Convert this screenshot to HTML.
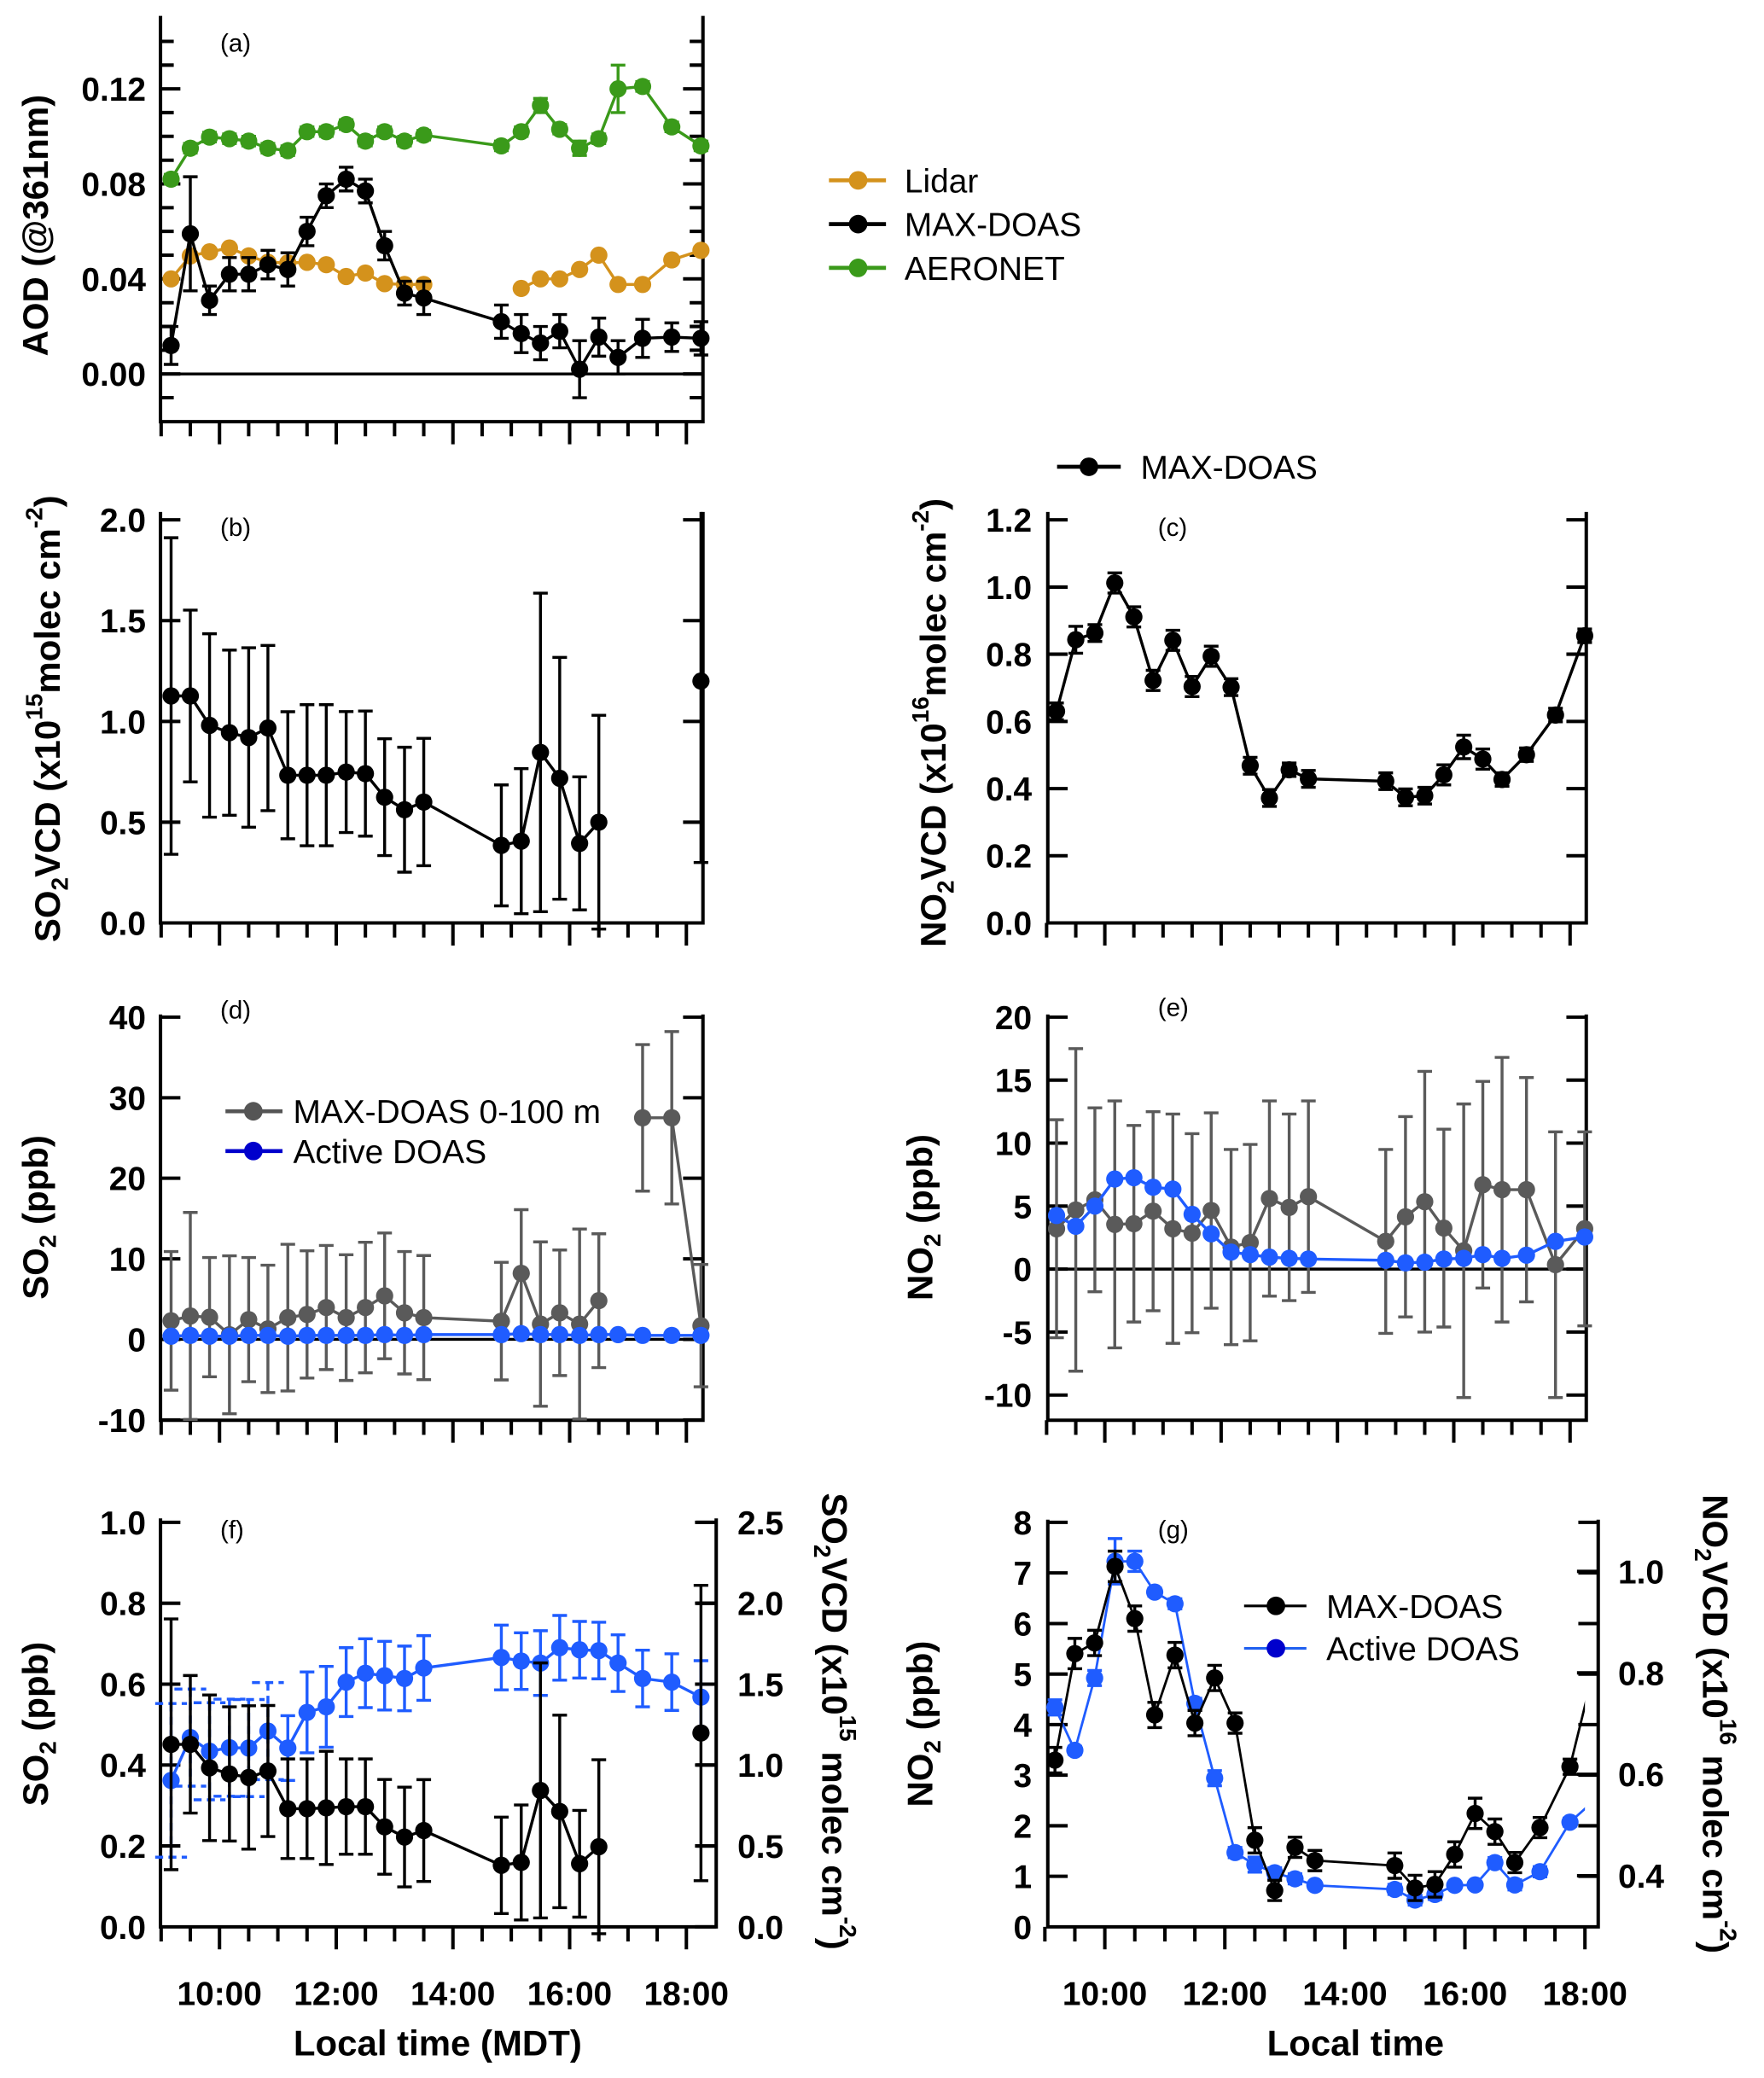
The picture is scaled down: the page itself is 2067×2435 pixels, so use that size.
<!DOCTYPE html>
<html><head><meta charset="utf-8"><title>AOD, SO2 and NO2 time series</title>
<style>
html,body{margin:0;padding:0;background:#fff;}
svg{display:block;font-family:"Liberation Sans",Arial,sans-serif;}
.tl{font-size:25px;font-weight:bold;}
.ttl{font-size:27px;font-weight:bold;}
.lg{font-size:25px;}
.pl{font-size:19px;}
</style></head>
<body>
<svg id="fig" width="2067" height="2435" viewBox="0 0 1330 1567" preserveAspectRatio="none">
<rect x="0" y="0" width="1330" height="1567" fill="#fff"/>
<text class="pl" x="166" y="39">(a)</text>
<text class="pl" x="166" y="404">(b)</text>
<text class="pl" x="873" y="404">(c)</text>
<text class="pl" x="166" y="768">(d)</text>
<text class="pl" x="873" y="766">(e)</text>
<text class="pl" x="166" y="1160">(f)</text>
<text class="pl" x="873" y="1160">(g)</text>
<text class="ttl" transform="translate(36,170) rotate(-90)" text-anchor="middle">AOD (@361nm)</text>
<text class="ttl" transform="translate(45,542) rotate(-90)" text-anchor="middle">SO<tspan font-size="18" dy="6">2</tspan><tspan dy="-6">VCD (x10</tspan><tspan font-size="18" dy="-13">15</tspan><tspan dy="13">molec cm</tspan><tspan font-size="18" dy="-13">-2</tspan><tspan dy="13">)</tspan></text>
<text class="ttl" transform="translate(713,545) rotate(-90)" text-anchor="middle">NO<tspan font-size="18" dy="6">2</tspan><tspan dy="-6">VCD (x10</tspan><tspan font-size="18" dy="-13">16</tspan><tspan dy="13">molec cm</tspan><tspan font-size="18" dy="-13">-2</tspan><tspan dy="13">)</tspan></text>
<text class="ttl" transform="translate(36,918) rotate(-90)" text-anchor="middle">SO<tspan font-size="18" dy="6">2</tspan><tspan dy="-6"> (ppb)</tspan></text>
<text class="ttl" transform="translate(703,918) rotate(-90)" text-anchor="middle">NO<tspan font-size="18" dy="6">2</tspan><tspan dy="-6"> (ppb)</tspan></text>
<text class="ttl" transform="translate(36,1300) rotate(-90)" text-anchor="middle">SO<tspan font-size="18" dy="6">2</tspan><tspan dy="-6"> (ppb)</tspan></text>
<text class="ttl" transform="translate(620,1298) rotate(90)" text-anchor="middle">SO<tspan font-size="18" dy="6">2</tspan><tspan dy="-6">VCD (x10</tspan><tspan font-size="18" dy="-13">15</tspan><tspan dy="13"> molec cm</tspan><tspan font-size="18" dy="-13">-2</tspan><tspan dy="13">)</tspan></text>
<text class="ttl" transform="translate(703,1300) rotate(-90)" text-anchor="middle">NO<tspan font-size="18" dy="6">2</tspan><tspan dy="-6"> (ppb)</tspan></text>
<text class="ttl" transform="translate(1284,1300) rotate(90)" text-anchor="middle">NO<tspan font-size="18" dy="6">2</tspan><tspan dy="-6">VCD (x10</tspan><tspan font-size="18" dy="-13">16</tspan><tspan dy="13"> molec cm</tspan><tspan font-size="18" dy="-13">-2</tspan><tspan dy="13">)</tspan></text>
<text class="ttl" x="330" y="1550" text-anchor="middle">Local  time (MDT)</text>
<text class="ttl" x="1022" y="1550" text-anchor="middle">Local  time</text>
<g>
 <line x1="625" y1="136" x2="668" y2="136" stroke="#d4921c" stroke-width="3"/><circle cx="647" cy="136" r="7" fill="#d4921c"/>
 <text class="lg" x="682" y="145">Lidar</text>
 <line x1="625" y1="169" x2="668" y2="169" stroke="#000" stroke-width="3"/><circle cx="647" cy="169" r="7" fill="#000"/>
 <text class="lg" x="682" y="178">MAX-DOAS</text>
 <line x1="625" y1="202" x2="668" y2="202" stroke="#3a9a1a" stroke-width="3"/><circle cx="647" cy="202" r="7" fill="#3a9a1a"/>
 <text class="lg" x="682" y="211">AERONET</text>
</g>
<g>
 <line x1="797" y1="352" x2="845" y2="352" stroke="#000" stroke-width="3"/><circle cx="821" cy="352" r="7" fill="#000"/>
 <text class="lg" x="860" y="361">MAX-DOAS</text>
</g>
<g>
 <line x1="170" y1="838" x2="213" y2="838" stroke="#555" stroke-width="3"/><circle cx="191" cy="838" r="7" fill="#555"/>
 <text class="lg" x="221" y="847">MAX-DOAS 0-100 m</text>
 <line x1="170" y1="868" x2="213" y2="868" stroke="#0000cc" stroke-width="3"/><circle cx="191" cy="868" r="7" fill="#0000cc"/>
 <text class="lg" x="221" y="877">Active DOAS</text>
</g>
<g>
 <line x1="938" y1="1211" x2="985" y2="1211" stroke="#000" stroke-width="2"/><circle cx="962" cy="1211" r="7" fill="#000"/>
 <text class="lg" x="1000" y="1220">MAX-DOAS</text>
 <line x1="938" y1="1243" x2="985" y2="1243" stroke="#2060f0" stroke-width="2"/><circle cx="962" cy="1243" r="7" fill="#0000cc"/>
 <text class="lg" x="1000" y="1252">Active DOAS</text>
</g>
<defs>
<clipPath id="clipG"><rect x="780" y="1100" width="415" height="400"/></clipPath>
<clipPath id="clipB"><rect x="100" y="386" width="450" height="330"/></clipPath>
</defs>
</svg>
<script>
const T = [9.17,9.5,9.83,10.17,10.5,10.83,11.17,11.5,11.83,12.17,12.5,12.83,13.17,13.5,14.83,15.17,15.5,15.83,16.17,16.5,16.83,17.25,17.75,18.25];
const hourLabels = ["10:00","12:00","14:00","16:00","18:00"];
const hourValues = [10,12,14,16,18];

const aodMax = [0.012,0.059,0.031,0.042,0.042,0.046,0.044,0.060,0.075,0.082,0.077,0.054,0.034,0.032,0.022,0.017,0.013,0.018,0.002,0.0155,0.007,0.015,0.0155,0.015];
const aodMaxErr = [0.008,0.024,0.006,0.007,0.007,0.006,0.007,0.006,0.005,0.005,0.005,0.006,0.005,0.007,0.007,0.008,0.007,0.007,0.012,0.008,0.007,0.008,0.006,0.007];
const aodAeronet = [0.082,0.095,0.0997,0.099,0.098,0.095,0.094,0.102,0.102,0.105,0.098,0.102,0.098,0.1005,0.096,0.102,0.113,0.103,0.095,0.099,0.120,0.121,0.104,0.096];
const aodAeronetErr = [0.002,0.002,0.002,0.002,0.002,0.002,0.002,0.002,0.002,0.002,0.002,0.002,0.002,0.002,0.002,0.002,0.003,0.002,0.003,0.002,0.010,0.002,0.002,0.002];
const aodLidar = [0.040,0.0497,0.0514,0.053,0.0497,0.047,0.0467,0.047,0.046,0.041,0.0425,0.038,0.0377,0.0377,null,0.036,0.040,0.040,0.044,0.050,0.0377,0.0377,0.048,0.052];

const so2Vcd = [1.126,1.126,0.98,0.944,0.92,0.967,0.733,0.733,0.733,0.749,0.741,0.624,0.562,0.60,0.385,0.406,0.846,0.718,0.395,0.5,null,null,null,1.2];
const so2VcdErr = [0.785,0.426,0.455,0.41,0.445,0.41,0.315,0.35,0.35,0.3,0.31,0.29,0.31,0.316,0.3,0.36,0.79,0.6,0.33,0.53,null,null,null,0.9];

const no2Vcd = [0.63,0.843,0.863,1.012,0.911,0.722,0.841,0.704,0.794,0.702,0.468,0.372,0.456,0.429,0.422,0.374,0.379,0.441,0.524,0.488,0.427,0.501,0.619,0.855];
const no2VcdErr = [0.025,0.04,0.025,0.03,0.03,0.03,0.03,0.03,0.03,0.025,0.025,0.025,0.02,0.025,0.025,0.025,0.025,0.03,0.035,0.03,0.02,0.02,0.02,0.02];

const so2Max100 = [2.3,2.9,2.75,0.57,2.45,1.3,2.7,3.1,3.95,2.7,3.95,5.4,3.3,2.7,2.26,8.2,1.9,3.3,1.9,4.8,null,27.5,27.5,1.7];
const so2Max100Err = [8.6,12.85,7.4,9.8,7.7,7.9,9.1,7.9,7.7,7.8,8.1,7.8,7.6,7.7,7.3,7.9,10.2,7.8,11.8,8.3,null,9.1,10.7,7.6];
const so2Active = [0.4,0.5,0.4,0.4,0.5,0.5,0.4,0.5,0.5,0.5,0.5,0.6,0.5,0.6,0.6,0.7,0.6,0.6,0.5,0.6,0.6,0.5,0.5,0.5];

const no2Max100 = [3.2,4.7,5.5,3.55,3.6,4.6,3.2,2.85,4.65,1.75,2.1,5.6,4.9,5.75,2.2,4.15,5.35,3.25,1.45,6.7,6.3,6.3,0.35,3.2];
const no2Max100Err = [8.65,12.8,7.3,9.8,7.8,7.9,9.1,7.9,7.75,7.75,7.8,7.75,7.4,7.6,7.3,7.95,10.35,7.85,11.65,8.2,10.5,8.9,10.55,7.7];
const no2Active = [4.25,3.4,5.0,7.15,7.25,6.5,6.35,4.35,2.8,1.35,1.15,0.95,0.85,0.8,0.7,0.5,0.55,0.8,0.85,1.15,0.85,1.1,2.2,2.55];

const so2VcdF = [1.128,1.128,0.983,0.945,0.923,0.963,0.73,0.73,0.735,0.743,0.743,0.618,0.555,0.595,0.38,0.398,0.843,0.713,0.39,0.495,null,null,null,1.198];
const so2VcdFErr = [0.775,0.425,0.45,0.415,0.443,0.405,0.308,0.308,0.35,0.295,0.295,0.293,0.308,0.315,0.298,0.355,0.788,0.595,0.33,0.538,null,null,null,0.913];
const so2ActiveF = [0.362,0.468,0.434,0.443,0.442,0.484,0.442,0.530,0.544,0.605,0.627,0.621,0.614,0.640,0.666,0.657,0.652,0.690,0.685,0.683,0.652,0.614,0.605,0.568];
const so2ActiveFErr = [0.19,0.12,0.12,0.12,0.12,0.12,0.08,0.1,0.1,0.085,0.085,0.085,0.08,0.08,0.08,0.07,0.08,0.08,0.07,0.07,0.07,0.07,0.07,0.09];

const no2VcdG = [0.628,0.838,0.859,1.01,0.907,0.717,0.835,0.701,0.79,0.701,0.470,0.371,0.456,0.43,0.42,0.376,0.383,0.442,0.523,0.487,0.426,0.495,0.615,0.855];
const no2VcdGErr = [0.025,0.03,0.025,0.03,0.025,0.025,0.025,0.025,0.025,0.02,0.025,0.02,0.02,0.02,0.025,0.025,0.025,0.025,0.03,0.025,0.02,0.02,0.015,0.02];
const no2ActiveG = [4.34,3.49,4.92,7.23,7.23,6.62,6.39,4.42,2.94,1.47,1.23,1.07,0.95,0.82,0.74,0.53,0.64,0.82,0.83,1.27,0.83,1.09,2.07,2.6];
const no2ActiveGErr = [0.15,0.08,0.15,0.45,0.2,0.08,0.1,0.1,0.15,0.1,0.15,0.1,0.1,0.05,0.1,0.1,0.1,0.05,0.05,0.1,0.1,0.1,0.08,0.08];

const ticksA = [-0.01,0,0.01,0.02,0.03,0.04,0.05,0.06,0.07,0.08,0.09,0.10,0.11,0.12,0.13,0.14];
const labelsA = [0,0.04,0.08,0.12];
const labelsB = [0,0.5,1.0,1.5,2.0];
const labelsC = [0,0.2,0.4,0.6,0.8,1.0,1.2];
const labelsD = [-10,0,10,20,30,40];
const labelsE = [-10,-5,0,5,10,15,20];
const labelsF = [0,0.2,0.4,0.6,0.8,1.0];
const labelsF2 = [0,0.5,1.0,1.5,2.0,2.5];
const labelsG = [0,1,2,3,4,5,6,7,8];
const labelsG2 = [0.4,0.6,0.8,1.0];

const NS = document.getElementById('fig').namespaceURI;
const svg = document.getElementById('fig');
function lin(v0,p0,v1,p1){return v=>p0+(v-v0)*(p1-p0)/(v1-v0);}
const XA = lin(10,165.5,18,517.5);
const XC = lin(10,833,18,1183.8);
const XG = lin(10,833,18,1195);
const Ya = lin(0,282,0.12,67);
const Yb = lin(0,696,2,392);
const Yc = lin(0,696,1.2,392);
const Yd = lin(0,1010,40,767);
const Ye = lin(0,957,20,767);
const Yf = lin(0,1453,1,1148);
const Yf2 = lin(0,1453,2.5,1148);
const Yg = lin(0,1453,8,1148);
const Yg2 = lin(0.4,1414.5,1.0,1185);

function mk(tag,parent){const e=document.createElementNS(NS,tag);parent.appendChild(e);return e;}
function set(e,o){for(const k in o)e.setAttribute(k,o[k]);return e;}

function axes(id,X,Y,xl,xr,top,bot,labels,fmt,lx,minor,zero){
  const g=mk('g',svg);
  
  
  const path=mk('path',g);
  
  
  let d='M'+xl+','+top+'V'+bot+'H'+xr+'V'+top;
  for(let t=9;t<=18.001;t+=0.5){const x=X(t);const len=(Math.abs(t%2)<0.01)?17:11;d+='M'+x.toFixed(1)+','+bot+'v'+len;}
  (minor||[]).forEach(v=>{const y=Y(v).toFixed(1);d+='M'+xl+','+y+'h10M'+xr+','+y+'h-10';});
  labels.forEach(v=>{const y=Y(v).toFixed(1);d+='M'+xl+','+y+'h15M'+xr+','+y+'h-15';});
  set(path,{d:d,fill:'none',stroke:'#000','stroke-width':2.6});
  labels.forEach(v=>{
    const t=mk('text',g);
    
    
    set(t,{x:lx,y:(Y(v)+9).toFixed(1),'text-anchor':'end','class':'tl'});
    t.textContent=v.toFixed(fmt);
  });
  if(zero){
    const z=mk('line',g);
    
    
    set(z,{x1:xl,x2:xr,y1:Y(0),y2:Y(0),stroke:'#000','stroke-width':2.2});
  }
  return g;
}
function rightAxis(id,Y,xr,labels,fmt,lx){
  const g=mk('g',svg);
  
  
  const p=mk('path',g);
  
  
  let d='';
  labels.forEach(v=>{const y=Y(v).toFixed(1);d+='M'+(xr-16)+','+y+'H'+xr;});
  set(p,{d:d,stroke:'#000','stroke-width':2.6});
  labels.forEach(v=>{
    const t=mk('text',g);
    
    
    set(t,{x:lx,y:(Y(v)+9).toFixed(1),'class':'tl'});
    t.textContent=v.toFixed(fmt);
  });
}
function xLabels(id,X){
  hourValues.forEach((h,i)=>{
    const t=mk('text',svg);
    
    
    set(t,{x:X(h).toFixed(1),y:1512,'text-anchor':'middle','class':'tl'});
    t.textContent=hourLabels[i];
  });
}
function series(name,X,Y,vals,errs,color,opt){
  opt=opt||{};
  const g=mk('g',svg);
  
  
  if(opt.clip) g.setAttribute('clip-path','url(#'+opt.clip+')');
  let d='',pen=false;
  vals.forEach((v,i)=>{if(v==null){pen=false;return;}d+=(pen?'L':'M')+X(T[i]).toFixed(1)+','+Y(v).toFixed(1);pen=true;});
  const p=mk('path',g);
  
  
  set(p,{d:d,fill:'none',stroke:color,'stroke-width':opt.lw||2.2});
  if(errs) vals.forEach((v,i)=>{
    if(v==null||errs[i]==null)return;
    const x=X(T[i]),y1=Y(v+errs[i]),y2=Y(v-errs[i]);
    const dashed=opt.dashN&&i<opt.dashN;
    const w=dashed?12:5.5;
    const e=mk('path',g);
    
    
    set(e,{d:'M'+x.toFixed(1)+','+y1.toFixed(1)+'V'+y2.toFixed(1)+'M'+(x-w).toFixed(1)+','+y1.toFixed(1)+'h'+(2*w)+'M'+(x-w).toFixed(1)+','+y2.toFixed(1)+'h'+(2*w),fill:'none',stroke:color,'stroke-width':2.2});
    if(dashed)e.setAttribute('stroke-dasharray','6,4');
  });
  vals.forEach((v,i)=>{
    if(v==null)return;
    const c=mk('circle',g);
    
    
    set(c,{cx:X(T[i]).toFixed(1),cy:Y(v).toFixed(1),r:opt.r||6.5,fill:color});
  });
}

axes('a',XA,Ya,121,530,12,318,labelsA,2,110,ticksA,true);
series('aeronet-aod',XA,Ya,aodAeronet,aodAeronetErr,'#3a9a1a');
series('lidar-aod',XA,Ya,aodLidar,null,'#d4921c');
series('maxdoas-aod',XA,Ya,aodMax,aodMaxErr,'#000');

axes('b',XA,Yb,121,530,386,696,labelsB,1,110,null,false);
series('maxdoas-so2-vcd',XA,Yb,so2Vcd,so2VcdErr,'#000',{clip:'clipB'});

axes('c',XC,Yc,790,1196,386,696,labelsC,1,778,null,false);
series('maxdoas-no2-vcd',XC,Yc,no2Vcd,no2VcdErr,'#000');

axes('d',XA,Yd,121,530,765,1071,labelsD,0,110,null,true);
series('maxdoas-so2-0-100m',XA,Yd,so2Max100,so2Max100Err,'#5a5a5a');
series('active-doas-so2-d',XA,Yd,so2Active,null,'#1f5cff');

axes('e',XC,Ye,790,1196,765,1071,labelsE,0,778,null,true);
series('maxdoas-no2-0-100m',XC,Ye,no2Max100,no2Max100Err,'#5a5a5a');
series('active-doas-no2-e',XC,Ye,no2Active,null,'#1f5cff');

axes('f',XA,Yf,121,540,1145,1453,labelsF,1,110,null,false);
rightAxis('f',Yf2,540,labelsF2,1,556);
xLabels('f',XA);
series('active-doas-so2-f',XA,Yf,so2ActiveF,so2ActiveFErr,'#1f5cff',{dashN:6});
series('maxdoas-so2-vcd-f',XA,Yf2,so2VcdF,so2VcdFErr,'#000');

axes('g',XG,Yg,790,1205,1146,1453,labelsG,0,778,null,false);
rightAxis('g',Yg2,1205,labelsG2,1,1220);
xLabels('g',XG);
series('active-doas-no2-g',XG,Yg,no2ActiveG,no2ActiveGErr,'#1f5cff',{clip:'clipG',lw:1.8});
series('maxdoas-no2-vcd-g',XG,Yg2,no2VcdG,no2VcdGErr,'#000',{clip:'clipG',lw:1.8});
</script>
</body></html>
